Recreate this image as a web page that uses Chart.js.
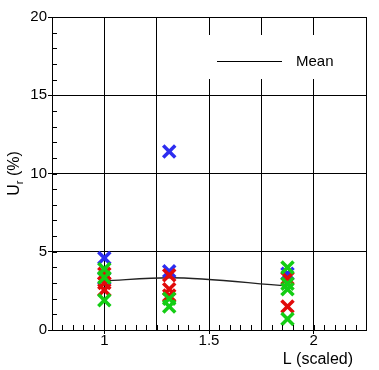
<!DOCTYPE html>
<html>
<head>
<meta charset="utf-8">
<script src="https://cdn.jsdelivr.net/npm/chart.js@4.4.1/dist/chart.umd.min.js"></script>
<style>
  html, body { margin: 0; padding: 0; background: #fff; }
  #wrap { width: 379px; height: 370px; }
</style>
</head>
<body>
<div id="wrap"><canvas id="c"></canvas></div>
<script>
// mean curve
const meanX = [1, 1.31, 1.875];
const meanY = [3.13, 3.34, 2.81];

// individual runs, one array pair per colour
const blueX = [1, 1, 1.31, 1.31, 1.875];
const blueY = [4.6, 3.3, 11.4, 3.75, 3.6];
const redX = [1, 1, 1, 1.31, 1.31, 1.31, 1.875, 1.875];
const redY = [3.6, 3.0, 2.55, 3.5, 2.6, 2.2, 3.3, 1.5];
const greenX = [1, 1, 1, 1.31, 1.31, 1.875, 1.875, 1.875, 1.875];
const greenY = [3.9, 3.35, 1.9, 2.0, 1.5, 4.0, 2.95, 2.6, 0.7];

const xLabels = [1, 1.5, 2];
const yLabels = [0, 5, 10, 15, 20];

const pts = (xs, ys) => xs.map((v, i) => ({ x: v, y: ys[i] }));
const near = (a, b) => Math.abs(a - b) < 1e-6;
const isQuarter = v => near(v * 4, Math.round(v * 4));

const marker = color => ({
  borderColor: color,
  backgroundColor: color,
  pointStyle: 'crossRot',
  pointRadius: 8.5,
  pointHoverRadius: 8.5,
  pointBorderWidth: 3.5,
  showLine: false
});

// frame, inward minor ticks, legend and axis titles
const decor = {
  id: 'decor',
  beforeDatasetsDraw(chart) {
    const { ctx, chartArea: a } = chart;
    ctx.save();
    ctx.fillStyle = '#fff';
    ctx.fillRect(a.left + 148, 35, 152, 44);
    ctx.strokeStyle = '#000';
    ctx.lineWidth = 1;
    ctx.beginPath();
    ctx.moveTo(a.left + 165, 61.5);
    ctx.lineTo(a.left + 230, 61.5);
    ctx.stroke();
    ctx.fillStyle = '#000';
    ctx.font = '15px "Liberation Sans", Arial, sans-serif';
    ctx.textBaseline = 'alphabetic';
    ctx.fillText('Mean', a.left + 244, 66);
    ctx.restore();
  },
  afterDraw(chart) {
    const { ctx, chartArea: a, scales: { x, y } } = chart;
    ctx.save();
    ctx.strokeStyle = '#000';
    ctx.lineWidth = 1;
    ctx.beginPath();
    x.ticks.forEach(t => {
      const px = Math.round(x.getPixelForValue(t.value)) + 0.5;
      ctx.moveTo(px, a.bottom);
      ctx.lineTo(px, a.bottom - 5);
    });
    y.ticks.forEach(t => {
      const py = Math.round(y.getPixelForValue(t.value)) + 0.5;
      ctx.moveTo(a.left, py);
      ctx.lineTo(a.left + 5, py);
    });
    ctx.stroke();
    ctx.strokeRect(Math.round(a.left) + 0.5, Math.round(a.top) + 0.5,
      Math.round(a.right - a.left), Math.round(a.bottom - a.top));

    ctx.fillStyle = '#000';
    ctx.font = '16px "Liberation Sans", Arial, sans-serif';
    ctx.textAlign = 'right';
    ctx.textBaseline = 'alphabetic';
    ctx.fillText('L (scaled)', a.right - 13, 364);

    // U_r (%) rotated
    ctx.translate(18.5, (a.top + a.bottom) / 2);
    ctx.rotate(-Math.PI / 2);
    ctx.textAlign = 'left';
    const big = '16px "Liberation Sans", Arial, sans-serif';
    const small = '11px "Liberation Sans", Arial, sans-serif';
    ctx.font = big;
    const wU = ctx.measureText('U').width;
    const wRest = ctx.measureText(' (%)').width;
    ctx.font = small;
    const wr = ctx.measureText('r').width;
    let cx = -(wU + wr + wRest) / 2;
    ctx.font = big;
    ctx.fillText('U', cx, 0);
    cx += wU;
    ctx.font = small;
    ctx.fillText('r', cx, 4);
    cx += wr;
    ctx.font = big;
    ctx.fillText(' (%)', cx, 0);
    ctx.restore();
  }
};

new Chart(document.getElementById('c'), {
  type: 'scatter',
  data: {
    datasets: [
      Object.assign({ label: 'green', data: pts(greenX, greenY) }, marker('rgb(20,205,20)')),
      Object.assign({ label: 'red', data: pts(redX, redY) }, marker('rgb(225,10,10)')),
      Object.assign({ label: 'blue', data: pts(blueX, blueY) }, marker('rgb(45,45,240)')),
      {
        label: 'Mean',
        data: pts(meanX, meanY),
        showLine: true,
        borderColor: '#222',
        borderWidth: 1.3,
        pointRadius: 0,
        tension: 0.4,
        cubicInterpolationMode: 'monotone'
      }
    ]
  },
  options: {
    responsive: true,
    maintainAspectRatio: false,
    animation: false,
    events: [],
    layout: { padding: { top: 17, right: 13, left: 0, bottom: 0 } },
    plugins: { legend: { display: false }, tooltip: { enabled: false } },
    scales: {
      x: {
        type: 'linear',
        min: 0.75,
        max: 2.25,
        afterFit: s => { s.height = 40; },
        border: { display: true, color: '#000', width: 1 },
        grid: {
          color: c => (isQuarter(c.tick.value) && c.tick.value > 0.8 && c.tick.value < 2.2) ? '#000' : 'rgba(0,0,0,0)',
          tickColor: c => xLabels.some(v => near(v, c.tick.value)) ? '#000' : 'rgba(0,0,0,0)',
          tickLength: 4,
          lineWidth: 1
        },
        ticks: {
          stepSize: 0.05,
          autoSkip: false,
          maxRotation: 0,
          padding: -2,
          color: '#000',
          font: { family: '"Liberation Sans", Arial, sans-serif', size: 15 },
          callback: v => xLabels.some(l => near(l, v)) ? String(Math.round(v * 10) / 10) : ''
        }
      },
      y: {
        min: 0,
        max: 20,
        afterFit: s => { s.width = 52; },
        border: { display: true, color: '#000', width: 1 },
        grid: {
          color: c => (c.tick.value % 5 === 0 && c.tick.value > 0 && c.tick.value < 20) ? '#000' : 'rgba(0,0,0,0)',
          tickColor: c => yLabels.includes(c.tick.value) ? '#000' : 'rgba(0,0,0,0)',
          tickLength: 4,
          lineWidth: 1
        },
        ticks: {
          stepSize: 1,
          autoSkip: false,
          padding: 1,
          color: '#000',
          font: { family: '"Liberation Sans", Arial, sans-serif', size: 15 },
          callback: v => yLabels.includes(v) ? String(v) : ''
        }
      }
    }
  },
  plugins: [decor]
});
</script>
</body>
</html>
